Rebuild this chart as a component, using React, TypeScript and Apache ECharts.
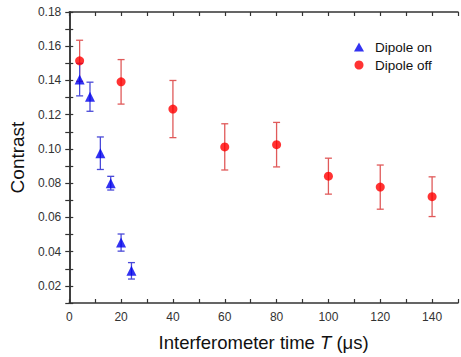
import React, { useEffect, useRef } from "react";
import * as echarts from "echarts";

const onT = [4, 8, 12, 16, 20, 24];
const onY = [0.1405, 0.1305, 0.0975, 0.08, 0.0453, 0.0288];
const onErr = [0.0095, 0.0085, 0.0095, 0.004, 0.005, 0.0048];

const offT = [4, 20, 40, 60, 80, 100, 120, 140];
const offY = [0.1515, 0.1392, 0.1233, 0.1012, 0.1025, 0.0841, 0.0777, 0.0721];
const offErr = [0.012, 0.013, 0.0167, 0.0135, 0.013, 0.0105, 0.0129, 0.0116];

const xTickLabels = [0, 20, 40, 60, 80, 100, 120, 140];
const yTickLabels = [0.02, 0.04, 0.06, 0.08, 0.1, 0.12, 0.14, 0.16, 0.18];

const FONT = "Liberation Sans, Arial, sans-serif";
const AXIS_COLOR = "#333";

function errSeries(name: string, xs: number[], ys: number[], es: number[], color: string) {
  return {
    type: "custom",
    name: name + " err",
    silent: true,
    z: 1,
    data: xs.map((x, i) => [x, ys[i] - es[i], ys[i] + es[i]]),
    renderItem: (params: any, api: any) => {
      const x = api.value(0);
      const lo = api.coord([x, api.value(1)]);
      const hi = api.coord([x, api.value(2)]);
      const cw = 3.5;
      const style = { stroke: color, lineWidth: 1.3, fill: "none" };
      return {
        type: "group",
        children: [
          { type: "line", shape: { x1: lo[0], y1: lo[1], x2: hi[0], y2: hi[1] }, style },
          { type: "line", shape: { x1: lo[0] - cw, y1: lo[1], x2: lo[0] + cw, y2: lo[1] }, style },
          { type: "line", shape: { x1: hi[0] - cw, y1: hi[1], x2: hi[0] + cw, y2: hi[1] }, style },
        ],
      };
    },
  };
}

export default function App() {
  const ref = useRef<HTMLDivElement>(null);
  useEffect(() => {
    if (!ref.current) return;
    const chart = echarts.init(ref.current, null, { renderer: "svg" });
    const axisLine = { show: true, lineStyle: { color: AXIS_COLOR, width: 1.5 } };
    const tick = { show: true, inside: true, length: 4, lineStyle: { color: AXIS_COLOR, width: 1.2 } };
    chart.setOption({
      animation: false,
      backgroundColor: "#fff",
      grid: { left: 63, right: -1, top: 12, bottom: 53, containLabel: false },
      legend: {
        orient: "vertical",
        left: 349,
        top: 35,
        itemGap: 4,
        itemWidth: 10,
        itemHeight: 9,
        textStyle: { fontFamily: FONT, fontSize: 13.5, color: "#111", padding: [0, 0, 0, 6] },
        data: [
          { name: "Dipole on", icon: "triangle" },
          { name: "Dipole off", icon: "circle" },
        ],
      },
      xAxis: [
        {
          type: "value",
          min: 0,
          max: 150,
          interval: 10,
          position: "bottom",
          axisLine,
          axisTick: tick,
          splitLine: { show: false },
          axisLabel: {
            fontFamily: FONT,
            fontSize: 12,
            color: "#333",
            margin: 8,
            formatter: (v: number) => (xTickLabels.includes(Math.round(v)) ? String(Math.round(v)) : ""),
          },
          name: "{n|Interferometer time }{i|T}{n| (μs)}",
          nameLocation: "middle",
          nameGap: 30,
          nameTextStyle: {
            rich: {
              n: { fontFamily: FONT, fontSize: 18.5, color: "#111" },
              i: { fontFamily: FONT, fontSize: 18.5, color: "#111", fontStyle: "italic" },
            },
          },
        },
        {
          type: "value",
          min: 0,
          max: 150,
          interval: 10,
          position: "top",
          axisLine,
          axisTick: tick,
          axisLabel: { show: false },
          splitLine: { show: false },
        },
      ],
      yAxis: [
        {
          type: "value",
          min: 0.01,
          max: 0.18,
          interval: 0.01,
          position: "left",
          axisLine,
          axisTick: tick,
          splitLine: { show: false },
          axisLabel: {
            fontFamily: FONT,
            fontSize: 12,
            color: "#333",
            margin: 8,
            formatter: (v: number) => {
              const r = Math.round(v * 100) / 100;
              return yTickLabels.some((t) => Math.abs(t - r) < 1e-6) ? r.toFixed(2) : "";
            },
          },
          name: "Contrast",
          nameLocation: "middle",
          nameGap: 36,
          nameTextStyle: { fontFamily: FONT, fontSize: 19, color: "#111" },
        },
        {
          type: "value",
          min: 0.01,
          max: 0.18,
          interval: 0.01,
          position: "right",
          axisLine,
          axisTick: tick,
          axisLabel: { show: false },
          splitLine: { show: false },
        },
      ],
      series: [
        errSeries("Dipole off", offT, offY, offErr, "#e05a5a"),
        errSeries("Dipole on", onT, onY, onErr, "#4a4ad8"),
        {
          type: "scatter",
          name: "Dipole off",
          symbol: "circle",
          symbolSize: 9,
          itemStyle: { color: "#ff0000" },
          z: 3,
          data: offT.map((x, i) => [x, offY[i]]),
        },
        {
          type: "scatter",
          name: "Dipole on",
          symbol: "triangle",
          symbolSize: 10,
          itemStyle: { color: "#0000ee" },
          z: 4,
          data: onT.map((x, i) => [x, onY[i]]),
        },
      ],
    });
    return () => chart.dispose();
  }, []);
  return <div ref={ref} style={{ width: 461, height: 357, position: "absolute", left: 0, top: 0 }} />;
}
